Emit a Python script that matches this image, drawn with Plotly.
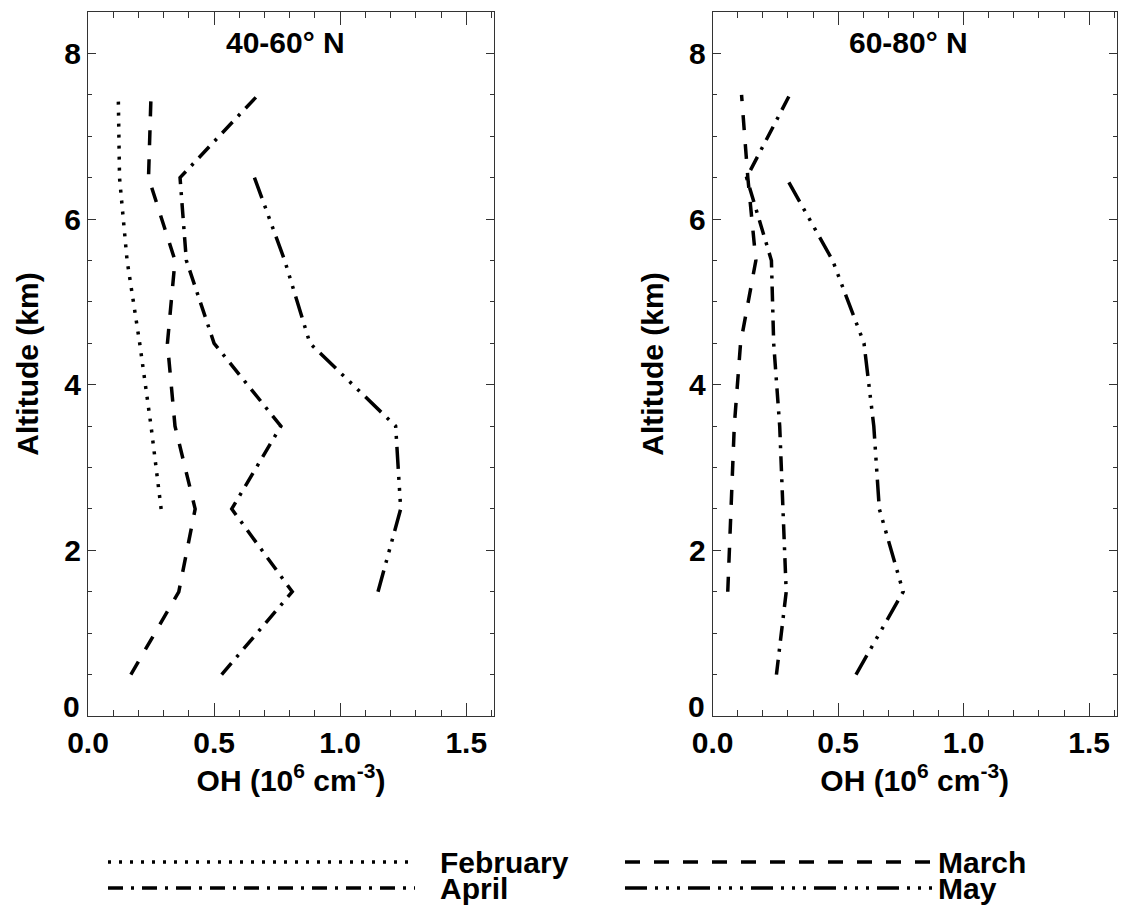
import plotly.graph_objects as go

# ---- OH profiles, 40-60 N ----
alt_feb_4060 = [2.5, 3.5, 4.5, 5.5, 6.5, 7.5]
oh_feb_4060 = [0.29, 0.25, 0.205, 0.155, 0.125, 0.12]

alt_mar_4060 = [0.5, 1.5, 2.5, 3.5, 4.5, 5.5, 6.5, 7.5]
oh_mar_4060 = [0.17, 0.36, 0.425, 0.345, 0.315, 0.345, 0.24, 0.25]

alt_apr_4060 = [0.5, 1.5, 2.5, 3.5, 4.5, 5.5, 6.5, 7.5]
oh_apr_4060 = [0.53, 0.81, 0.57, 0.765, 0.50, 0.39, 0.365, 0.675]

alt_may_4060 = [1.5, 2.5, 3.5, 4.5, 5.5, 6.5]
oh_may_4060 = [1.15, 1.24, 1.22, 0.88, 0.78, 0.66]

# ---- OH profiles, 60-80 N ----
alt_mar_6080 = [1.5, 2.5, 3.5, 4.5, 5.5, 6.5, 7.5]
oh_mar_6080 = [0.06, 0.073, 0.086, 0.111, 0.172, 0.14, 0.115]

alt_apr_6080 = [0.5, 1.5, 2.5, 3.5, 4.5, 5.5, 6.5, 7.5]
oh_apr_6080 = [0.254, 0.293, 0.28, 0.267, 0.243, 0.234, 0.135, 0.307]

alt_may_6080 = [0.5, 1.5, 2.5, 3.5, 4.5, 5.5, 6.5]
oh_may_6080 = [0.571, 0.759, 0.664, 0.642, 0.603, 0.478, 0.293]

months = ["February", "March", "April", "May"]
panel_titles = ["40-60° N", "60-80° N"]
x_ticks = [0.0, 0.5, 1.0, 1.5]
y_ticks = [0, 2, 4, 6, 8]

# ---- styling ----
W, H = 1121, 914
FONT = "Liberation Sans"
FS = 30
LW = 3.5
DASH = {
    "February": "3px,8px",
    "March": "15px,14px",
    "April": "15px,8px,3px,8px",
    "May": "22px,8px,3px,8px,3px,8px,3px,8px",
}
PANEL_X = [(88, 494), (712.7, 1116.7)]
PANEL_Y = (12, 716)


def fx(p):
    return p / W


def fy(p):
    return 1 - p / H


fig = go.Figure()

series = [
    ("x", "y", "February", alt_feb_4060, oh_feb_4060),
    ("x", "y", "March", alt_mar_4060, oh_mar_4060),
    ("x", "y", "April", alt_apr_4060, oh_apr_4060),
    ("x", "y", "May", alt_may_4060, oh_may_4060),
    ("x2", "y2", "March", alt_mar_6080, oh_mar_6080),
    ("x2", "y2", "April", alt_apr_6080, oh_apr_6080),
    ("x2", "y2", "May", alt_may_6080, oh_may_6080),
]
for xa, ya, month, alt, oh in series:
    fig.add_trace(go.Scatter(
        x=oh, y=alt, mode="lines", xaxis=xa, yaxis=ya, showlegend=False,
        line=dict(color="black", width=LW, dash=DASH[month]),
        hoverinfo="skip",
    ))

# legend: sample line span, label x, row y (page pixels, helper axis)
legend_rows = {"February": (108, 415, 438, 862), "March": (625, 932, 936, 862),
               "April": (108, 415, 438, 888), "May": (625, 932, 936, 888)}
for month in months:
    x0, x1, tx, yy = legend_rows[month]
    fig.add_trace(go.Scatter(
        x=[x0, x1], y=[yy, yy], mode="lines", xaxis="x3", yaxis="y3",
        showlegend=False, hoverinfo="skip",
        line=dict(color="black", width=LW, dash=DASH[month]),
    ))

tickfont = dict(family=FONT, size=FS, color="black", weight="bold")


def xaxis_cfg(domain, anchor):
    return dict(
        domain=domain, anchor=anchor, range=[0, 1.61], tickvals=x_ticks,
        tickformat=".1f",
        ticks="inside", ticklen=13, tickwidth=1, tickcolor="#333",
        minor=dict(dtick=0.1, ticks="inside", ticklen=6, tickwidth=1, tickcolor="#333"),
        showline=True, linecolor="#333", linewidth=1, mirror="ticks",
        showgrid=False, zeroline=False, tickfont=tickfont,
        ticklabelstandoff=0,
        title=dict(text="OH (10<sup>6</sup> cm<sup>-3</sup>)",
                   font=tickfont, standoff=0),
    )


def yaxis_cfg(anchor):
    # the "0" label is placed separately, lifted clear of the x labels
    return dict(
        domain=[fy(PANEL_Y[1]), fy(PANEL_Y[0])], range=[0, 8.5],
        tickvals=y_ticks, ticktext=[""] + [str(v) for v in y_ticks[1:]],
        ticks="inside", ticklen=8, tickwidth=1, tickcolor="#333",
        minor=dict(dtick=0.5, ticks="inside", ticklen=4, tickwidth=1, tickcolor="#333"),
        showline=True, linecolor="#333", linewidth=1, mirror="ticks",
        showgrid=False, zeroline=False, tickfont=tickfont, anchor=anchor,
        ticklabelstandoff=0,
        title=dict(text="Altitude (km)", font=tickfont, standoff=16),
    )


fig.update_layout(
    width=W, height=H,
    margin=dict(l=0, r=0, t=0, b=0, autoexpand=False),
    paper_bgcolor="white", plot_bgcolor="rgba(0,0,0,0)",
    xaxis=xaxis_cfg([fx(PANEL_X[0][0]), fx(PANEL_X[0][1])], "y"),
    yaxis=yaxis_cfg("x"),
    xaxis2=xaxis_cfg([fx(PANEL_X[1][0]), fx(PANEL_X[1][1])], "y2"),
    yaxis2=yaxis_cfg("x2"),
    xaxis3=dict(domain=[0, 1], range=[0, W], visible=False, anchor="y3"),
    yaxis3=dict(domain=[0, 1], range=[H, 0], visible=False, anchor="x3"),
)

annotations = []
for title, cx in zip(panel_titles, [285, 908]):
    annotations.append(dict(
        text=title, x=fx(cx), y=fy(43), xref="paper", yref="paper",
        xanchor="center", yanchor="middle", showarrow=False, font=tickfont,
    ))
for (left, _), yref in zip(PANEL_X, ["y", "y2"]):
    annotations.append(dict(
        text=str(y_ticks[0]), x=fx(left - 6), y=y_ticks[0], xref="paper", yref=yref,
        xanchor="right", yanchor="middle", yshift=10, showarrow=False, font=tickfont,
    ))
for month in months:
    x0, x1, tx, yy = legend_rows[month]
    annotations.append(dict(
        text=month, x=fx(tx), y=fy(yy), xref="paper", yref="paper",
        xanchor="left", yanchor="middle", showarrow=False, font=tickfont,
    ))
fig.update_layout(annotations=annotations)

fig.write_html("out.html")
